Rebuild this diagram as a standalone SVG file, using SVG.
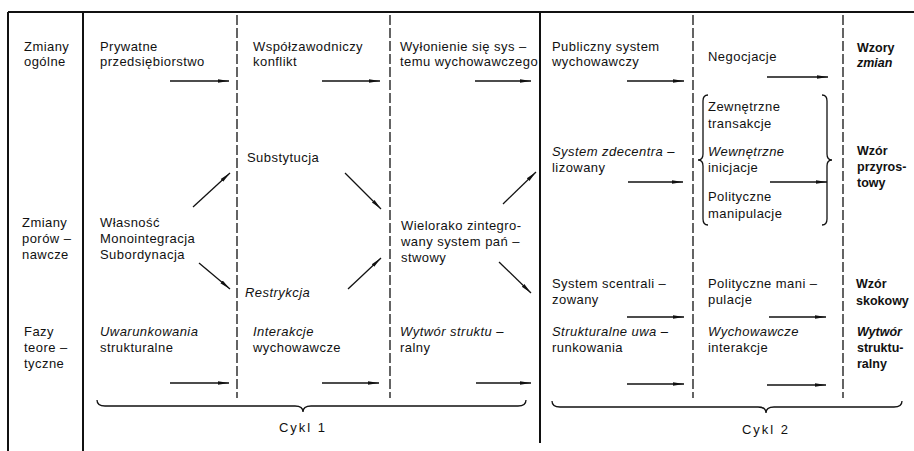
<svg xmlns="http://www.w3.org/2000/svg" width="914" height="451" viewBox="0 0 914 451">
<style>
text{font-family:"Liberation Sans",Arial,sans-serif;font-size:13px;letter-spacing:0.45px;fill:#111}
.i{font-style:italic}
.b{font-weight:bold;font-size:12.5px;letter-spacing:0}
.frame{stroke:#111;stroke-width:2;fill:none}
.dash{stroke:#111;stroke-width:1.3;stroke-dasharray:10 3;fill:none}
.arr{stroke:#111;stroke-width:1.3;fill:none;marker-end:url(#ah)}
.brace{stroke:#111;stroke-width:1.3;fill:none}
</style>
<defs>
<marker id="ah" markerUnits="userSpaceOnUse" markerWidth="12" markerHeight="6" refX="11" refY="3" orient="auto">
<path d="M0,1.2 L11,3 L0,4.8 z" fill="#111"/>
</marker>
</defs>
<rect width="914" height="451" fill="#fff"/>
<g id="grid">
<line class="frame" x1="8" y1="12" x2="914" y2="12"/>
<line class="frame" x1="8" y1="12" x2="8" y2="451"/>
<line class="frame" x1="83" y1="12" x2="83" y2="451"/>
<line class="frame" x1="540" y1="12" x2="540" y2="443"/>
<line class="dash" x1="237" y1="15" x2="237" y2="398"/>
<line class="dash" x1="390" y1="15" x2="390" y2="398"/>
<line class="dash" x1="693" y1="15" x2="693" y2="398"/>
<line class="dash" x1="843" y1="15" x2="843" y2="398"/>
</g>
<g id="row-labels">
<text x="24" y="51">Zmiany</text><text x="24" y="66">ogólne</text>
<text x="22" y="227">Zmiany</text><text x="22" y="243">porów –</text><text x="22" y="259">nawcze</text>
<text x="24" y="336">Fazy</text><text x="24" y="352">teore –</text><text x="24" y="368">tyczne</text>
</g>
<g id="n-prywatne"><text x="100" y="51">Prywatne</text><text x="100" y="66">przedsiębiorstwo</text></g>
<g id="n-wspolzawodniczy"><text x="253" y="51">Współzawodniczy</text><text x="253" y="66">konflikt</text></g>
<g id="n-wylonienie"><text x="400" y="51">Wyłonienie się sys –</text><text x="400" y="66">temu wychowawczego</text></g>
<g id="n-publiczny"><text x="552" y="51">Publiczny system</text><text x="552" y="66">wychowawczy</text></g>
<g id="n-negocjacje"><text x="708" y="61">Negocjacje</text></g>
<g id="n-wzory"><text class="b" x="857" y="52">Wzory</text><text class="b i" x="857" y="67">zmian</text></g>
<g id="n-substytucja"><text x="247" y="162">Substytucja</text></g>
<g id="n-wlasnosc"><text x="100" y="227">Własność</text><text x="100" y="243">Monointegracja</text><text x="100" y="259">Subordynacja</text></g>
<g id="n-restrykcja"><text class="i" x="245" y="297">Restrykcja</text></g>
<g id="n-wielorako"><text x="401" y="230">Wielorako zintegro-</text><text x="401" y="246">wany system pań –</text><text x="401" y="262">stwowy</text></g>
<g id="n-zdecentralizowany"><text class="i" x="552" y="156">System zdecentra –</text><text x="552" y="172">lizowany</text></g>
<g id="n-brace-group">
<text x="708" y="111">Zewnętrzne</text><text x="708" y="128">transakcje</text>
<text class="i" x="708" y="156">Wewnętrzne</text><text x="708" y="172">inicjacje</text>
<text x="708" y="201">Polityczne</text><text x="708" y="218">manipulacje</text>
<path class="brace" d="M708,95 Q703,95 703,101 L703,154 Q703,160 698,160 Q703,160 703,166 L703,219 Q703,225 708,225"/>
<path class="brace" d="M822,95 Q827,95 827,101 L827,154 Q827,160 832,160 Q827,160 827,166 L827,219 Q827,225 822,225"/>
</g>
<g id="n-przyrostowy"><text class="b" x="857" y="155">Wzór</text><text class="b" x="857" y="171">przyros-</text><text class="b" x="857" y="187">towy</text></g>
<g id="n-scentralizowany"><text x="552" y="288">System scentrali –</text><text x="552" y="304">zowany</text></g>
<g id="n-polityczne"><text x="708" y="288">Polityczne mani –</text><text x="708" y="304">pulacje</text></g>
<g id="n-skokowy"><text class="b" x="856" y="288">Wzór</text><text class="b" x="856" y="305">skokowy</text></g>
<g id="n-uwarunkowania"><text class="i" x="100" y="336">Uwarunkowania</text><text x="100" y="352">strukturalne</text></g>
<g id="n-interakcje"><text class="i" x="253" y="336">Interakcje</text><text x="253" y="352">wychowawcze</text></g>
<g id="n-wytwor1"><text class="i" x="400" y="336">Wytwór struktu –</text><text x="400" y="352">ralny</text></g>
<g id="n-strukturalne"><text class="i" x="552" y="336">Strukturalne uwa –</text><text x="552" y="352">runkowania</text></g>
<g id="n-wychowawcze"><text class="i" x="708" y="336">Wychowawcze</text><text x="708" y="352">interakcje</text></g>
<g id="n-wytwor2"><text class="b i" x="857" y="336">Wytwór</text><text class="b" x="857" y="352">struktu-</text><text class="b" x="857" y="368">ralny</text></g>
<g id="cycles">
<path class="brace" d="M97,400 Q97,406 105,406 L295,406 Q303,406 303,412 Q303,406 311,406 L518,406 Q526,406 526,400"/>
<text x="303" y="432" text-anchor="middle" style="letter-spacing:2px">Cykl 1</text>
<path class="brace" d="M552,401 Q552,407 560,407 L758,407 Q766,407 766,413 Q766,407 774,407 L894,407 Q902,407 902,401"/>
<text x="766" y="434" text-anchor="middle" style="letter-spacing:2px">Cykl 2</text>
</g>
<g id="connectors">
<line class="arr" x1="170" y1="81" x2="229" y2="81"/>
<line class="arr" x1="322" y1="81" x2="380" y2="81"/>
<line class="arr" x1="475" y1="81" x2="531" y2="81"/>
<line class="arr" x1="627" y1="81" x2="684" y2="81"/>
<line class="arr" x1="767" y1="77" x2="828" y2="77"/>
<line class="arr" x1="628" y1="182" x2="683" y2="182"/>
<line class="arr" x1="770" y1="182" x2="827" y2="182"/>
<line class="arr" x1="627" y1="317" x2="684" y2="317"/>
<line class="arr" x1="769" y1="317" x2="826" y2="317"/>
<line class="arr" x1="170" y1="383" x2="229" y2="383"/>
<line class="arr" x1="322" y1="383" x2="379" y2="383"/>
<line class="arr" x1="476" y1="383" x2="531" y2="383"/>
<line class="arr" x1="627" y1="384" x2="684" y2="384"/>
<line class="arr" x1="767" y1="385" x2="826" y2="385"/>
<line class="arr" x1="193" y1="207" x2="230" y2="173"/>
<line class="arr" x1="199" y1="263" x2="230" y2="289"/>
<line class="arr" x1="345" y1="173" x2="381" y2="209"/>
<line class="arr" x1="348" y1="289" x2="381" y2="258"/>
<line class="arr" x1="503" y1="204" x2="536" y2="172"/>
<line class="arr" x1="499" y1="262" x2="531" y2="293"/>
</g>
</svg>
